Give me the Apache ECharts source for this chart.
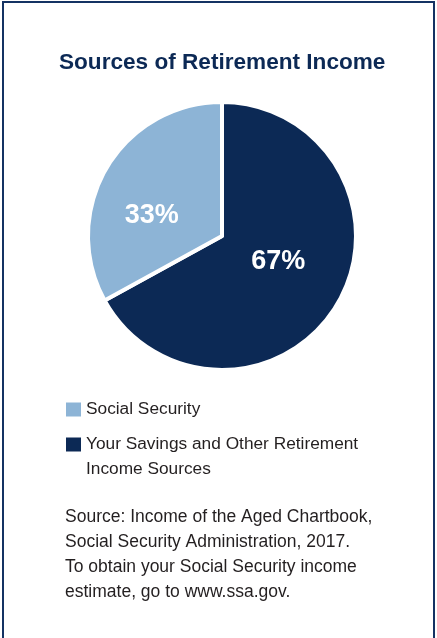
<!DOCTYPE html>
<html>
<head>
<meta charset="utf-8">
<script src="https://cdn.jsdelivr.net/npm/echarts@6/dist/echarts.min.js"></script>
<style>
html,body{margin:0;padding:0;background:#fff;}
#chart{width:437px;height:638px;}
</style>
</head>
<body>
<div id="chart"></div>
<script>
const titleText = 'Sources of Retirement Income';
const categories = ['Your Savings and Other Retirement\nIncome Sources', 'Social Security'];
const values = [67, 33];
const colors = ['#0c2955', '#8db4d6'];
const legendOrder = ['Social Security', 'Your Savings and Other Retirement\nIncome Sources'];
const sourceText = 'Source: Income of the Aged Chartbook,\nSocial Security Administration, 2017.\nTo obtain your Social Security income\nestimate, go to www.ssa.gov.';

const labelOffsets = [[-4, -10], [-10, 15]];

const chart = echarts.init(document.getElementById('chart'), null, {renderer: 'canvas'});
const textColor = '#231f20';
const font = 'Liberation Sans';

chart.setOption({
  animation: false,
  title: [
    {
      text: titleText,
      left: 59,
      top: 51,
      padding: 0,
      textStyle: {fontFamily: font, fontWeight: 'bold', fontSize: 22.6, color: '#0c2955'}
    },
    {
      text: sourceText,
      left: 65,
      top: 505,
      padding: 0,
      textStyle: {fontFamily: font, fontWeight: 'normal', fontSize: 17.5, lineHeight: 25, color: textColor}
    }
  ],
  legend: [
    {
      data: [legendOrder[0]],
      orient: 'vertical',
      left: 66,
      top: 397,
      padding: 0,
      itemWidth: 15,
      itemHeight: 14,
      icon: 'rect',
      itemStyle: {borderWidth: 0},
      selectedMode: false,
      textStyle: {fontFamily: font, fontSize: 17.3, color: textColor, lineHeight: 25}
    },
    {
      data: [legendOrder[1]],
      orient: 'vertical',
      left: 66,
      top: 407,
      padding: 0,
      itemWidth: 15,
      itemHeight: 14,
      icon: 'rect',
      itemStyle: {borderWidth: 0},
      selectedMode: false,
      formatter: name => '\n' + name,
      textStyle: {fontFamily: font, fontSize: 17.3, color: textColor, lineHeight: 25}
    }
  ],
  graphic: [
    {
      type: 'rect',
      shape: {x: 3, y: 2, width: 431, height: 660},
      style: {fill: 'none', stroke: '#143263', lineWidth: 2},
      silent: true
    }
  ],
  series: [
    {
      type: 'pie',
      center: [222, 236],
      radius: [0, 134],
      startAngle: 90,
      clockwise: true,
      avoidLabelOverlap: false,
      label: {
        show: true,
        position: 'inside',
        formatter: '{c}%',
        color: '#fff',
        fontFamily: font,
        fontWeight: 'bold',
        fontSize: 27
      },
      labelLine: {show: false},
      itemStyle: {borderColor: '#fff', borderWidth: 4},
      emphasis: {disabled: true},
      data: categories.map((name, i) => ({
        name: name,
        value: values[i],
        itemStyle: {color: colors[i]},
        label: {offset: labelOffsets[i]}
      }))
    }
  ]
});
</script>
</body>
</html>
